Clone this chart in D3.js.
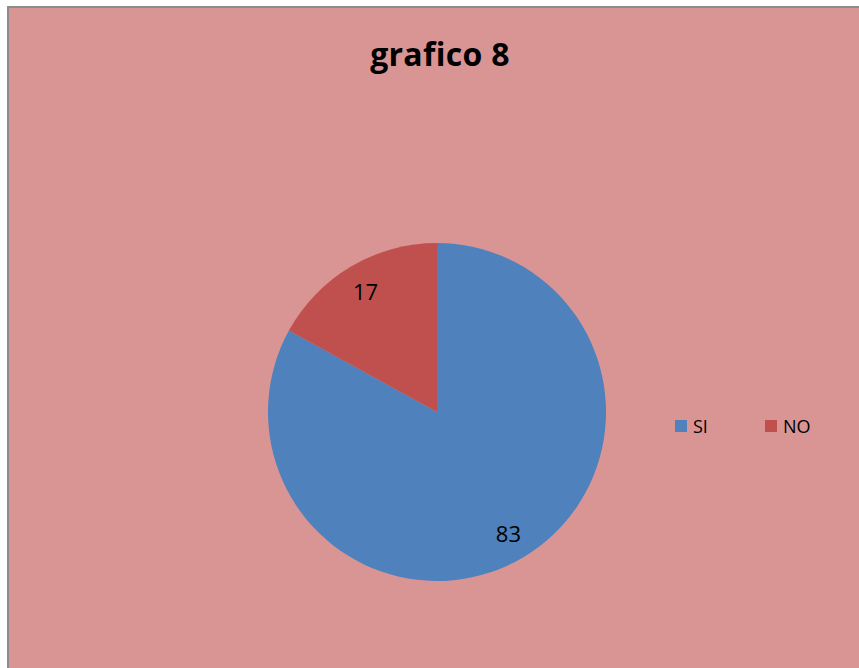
<!DOCTYPE html>
<html><head><meta charset="utf-8">
<script src="https://cdn.jsdelivr.net/npm/d3@7"></script>
<style>body{margin:0;background:#fff;}svg{display:block;}</style>
</head><body>
<script>
const categories = ["SI", "NO"];
const values = [83, 17];
const colors = ["#4F81BD", "#C0504D"];
const title = "grafico 8";

const W = 859, H = 668;
const svg = d3.select("body").append("svg").attr("width", W).attr("height", H);
svg.append("rect").attr("x", 8).attr("y", 7).attr("width", W + 20).attr("height", H + 20)
  .attr("fill", "#D99594").attr("stroke", "#8c8c8c").attr("stroke-width", 2);

svg.append("text").attr("x", 440).attr("y", 66).attr("text-anchor", "middle")
  .attr("font-family", "Open Sans, sans-serif").attr("font-weight", "bold")
  .attr("font-size", 32).attr("letter-spacing", "0.3").attr("fill", "#000").text(title);

const cx = 437, cy = 412, r = 169;
const data = categories.map((c, i) => ({cat: c, val: values[i], color: colors[i]}));
const pie = d3.pie().value(d => d.val).sort(null);
const arc = d3.arc().innerRadius(0).outerRadius(r);
const g = svg.append("g").attr("transform", `translate(${cx},${cy})`);
const arcs = pie(data);
g.selectAll("path").data(arcs).join("path").attr("d", arc).attr("fill", d => d.data.color);
const lab = d3.arc().innerRadius(r * 0.83).outerRadius(r * 0.83);
g.selectAll("text").data(arcs).join("text")
  .attr("x", d => lab.centroid(d)[0]).attr("y", d => lab.centroid(d)[1])
  .attr("text-anchor", "middle").attr("dominant-baseline", "central")
  .attr("font-family", "Open Sans, sans-serif").attr("font-size", 22).attr("fill", "#000")
  .text(d => d.data.val);

const lx = d3.scalePoint().domain(categories).range([675, 765]);
const lg = svg.append("g");
lg.selectAll("rect").data(data).join("rect")
  .attr("x", d => lx(d.cat)).attr("y", 420).attr("width", 12).attr("height", 12)
  .attr("fill", d => d.color);
lg.selectAll("text").data(data).join("text")
  .attr("x", d => lx(d.cat) + 18).attr("y", 433)
  .attr("font-family", "Open Sans, sans-serif").attr("font-size", 18).attr("fill", "#000")
  .text(d => d.cat);
</script>
</body></html>
